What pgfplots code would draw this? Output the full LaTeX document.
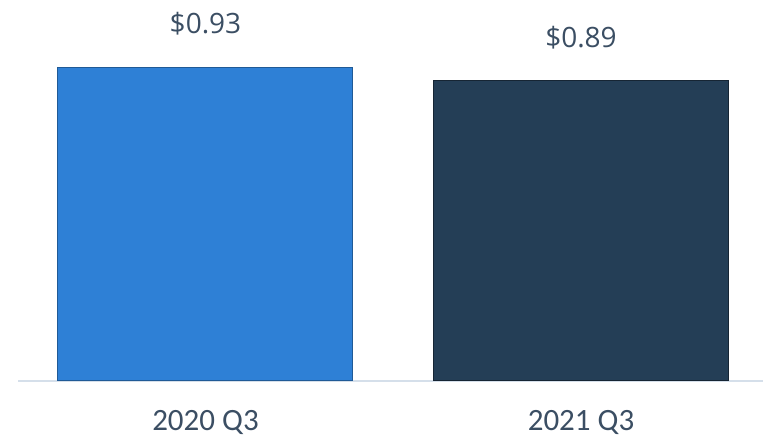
\documentclass[border=0pt]{standalone}
\usepackage{pgfplots}
\pgfplotsset{compat=1.18}
\usepackage{fontspec}
\newfontfamily\opensans{Open Sans}
\newfontfamily\carlito{Carlito}
\definecolor{txt}{HTML}{3B4E63}
\definecolor{barA}{HTML}{2E80D6}
\definecolor{barB}{HTML}{243E56}
\definecolor{base}{HTML}{D5DFEA}
\begin{document}
\begin{tikzpicture}[x=1pt,y=1pt]
\useasboundingbox (0,0) rectangle (763,441);
\begin{axis}[
  scale only axis,
  anchor=south west,
  at={(18pt,60pt)},
  width=745pt, height=337.6pt,
  xmin=-0.4993, xmax=1.4847,
  ymin=0, ymax=1,
  clip=false,
  axis x line*=bottom,
  axis y line=none,
  x axis line style={base, line width=1.5pt},
  xtick={0,1},
  xticklabels={2020 Q3, 2021 Q3},
  major tick length=0pt,
  xticklabel style={font=\carlito\fontsize{31}{36}\selectfont, text=txt, anchor=center, yshift=-41pt},
  ybar, bar width=295pt, bar shift=0pt,
  point meta=y,
  nodes near coords={\$\pgfmathprintnumber[fixed,precision=2,fixed zerofill,assume math mode=true]{\pgfplotspointmeta}},
  every node near coord/.append style={font=\opensans\fontsize{28}{34}\selectfont, text=txt, anchor=center, yshift=43pt},
]
\addplot[fill=barA, draw=barA!70!black, line width=1pt] coordinates {(0,0.93)};
\addplot[fill=barB, draw=barB!60!black, line width=1pt] coordinates {(1,0.89)};
\end{axis}
\end{tikzpicture}
\end{document}
